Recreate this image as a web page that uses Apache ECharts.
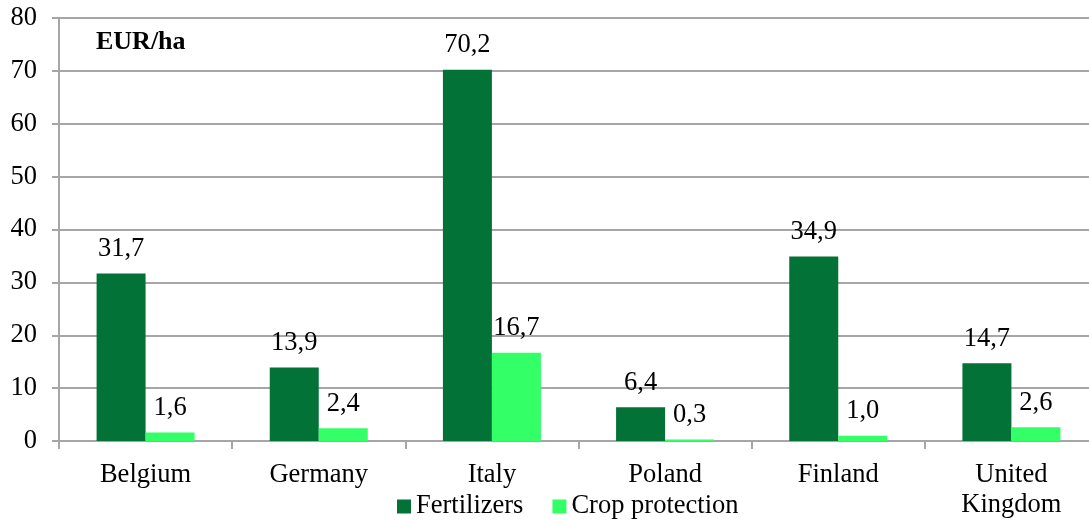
<!DOCTYPE html>
<html>
<head>
<meta charset="utf-8">
<script src="https://cdn.jsdelivr.net/npm/echarts@6/dist/echarts.min.js"></script>
<style>
  html, body { margin: 0; padding: 0; background: #fff; overflow: hidden; }
  /* the plot area runs slightly past the right edge of the window */
  #chart { width: 1098px; height: 520px; }
</style>
</head>
<body>
<div id="chart"></div>
<script>
// Input costs per hectare, by country
const countries = ['Belgium', 'Germany', 'Italy', 'Poland', 'Finland', 'United\nKingdom'];
const fertilizers = [31.7, 13.9, 70.2, 6.4, 34.9, 14.7];
const cropProtection = [1.6, 2.4, 16.7, 0.3, 1.0, 2.6];
const seriesNames = ['Fertilizers', 'Crop protection'];
const unitLabel = 'EUR/ha';

const FONT = '"Liberation Serif", "Times New Roman", serif';
const FS = 26.5;
const GRID_COLOR = '#a6a6a6';
const fmt = v => v.toFixed(1).replace('.', ',');

const chart = echarts.init(document.getElementById('chart'), null, { renderer: 'canvas' });

const labelStyle = {
  show: true,
  position: 'top',
  distance: 11,
  fontFamily: FONT,
  fontSize: FS,
  color: '#000',
  formatter: p => fmt(p.value)
};

chart.setOption({
  animation: false,
  backgroundColor: '#fff',
  grid: { left: 59, top: 18, right: 0, bottom: 77, containLabel: false },
  legend: {
    left: 392,
    top: 488,
    icon: 'rect',
    itemWidth: 14,
    itemHeight: 14,
    itemGap: 29,
    textStyle: { fontFamily: FONT, fontSize: FS, color: '#000' },
    data: seriesNames
  },
  graphic: [{
    type: 'text',
    left: 96,
    top: 29,
    style: { text: unitLabel, font: 'bold 26px ' + FONT, fill: '#000' }
  }],
  xAxis: {
    type: 'category',
    data: countries,
    axisLine: { lineStyle: { color: GRID_COLOR, width: 2 } },
    axisTick: { show: true, length: 8, lineStyle: { color: GRID_COLOR, width: 2 } },
    axisLabel: {
      margin: 19,
      fontFamily: FONT,
      fontSize: FS,
      lineHeight: 30,
      color: '#000'
    }
  },
  yAxis: {
    type: 'value',
    min: 0,
    max: 80,
    interval: 10,
    axisLine: { show: true, lineStyle: { color: GRID_COLOR, width: 2 } },
    axisTick: { show: true, length: 7, lineStyle: { color: GRID_COLOR, width: 2 } },
    splitLine: { lineStyle: { color: GRID_COLOR, width: 2 } },
    axisLabel: {
      margin: 22,
      fontFamily: FONT,
      fontSize: FS,
      color: '#000'
    }
  },
  series: [
    {
      name: seriesNames[0],
      type: 'bar',
      data: fertilizers,
      barWidth: 49,
      barGap: '0%',
      itemStyle: { color: '#037236' },
      label: labelStyle
    },
    {
      name: seriesNames[1],
      type: 'bar',
      data: cropProtection,
      barWidth: 49,
      barGap: '0%',
      itemStyle: { color: '#33ff66' },
      label: labelStyle
    }
  ]
});
</script>
</body>
</html>
